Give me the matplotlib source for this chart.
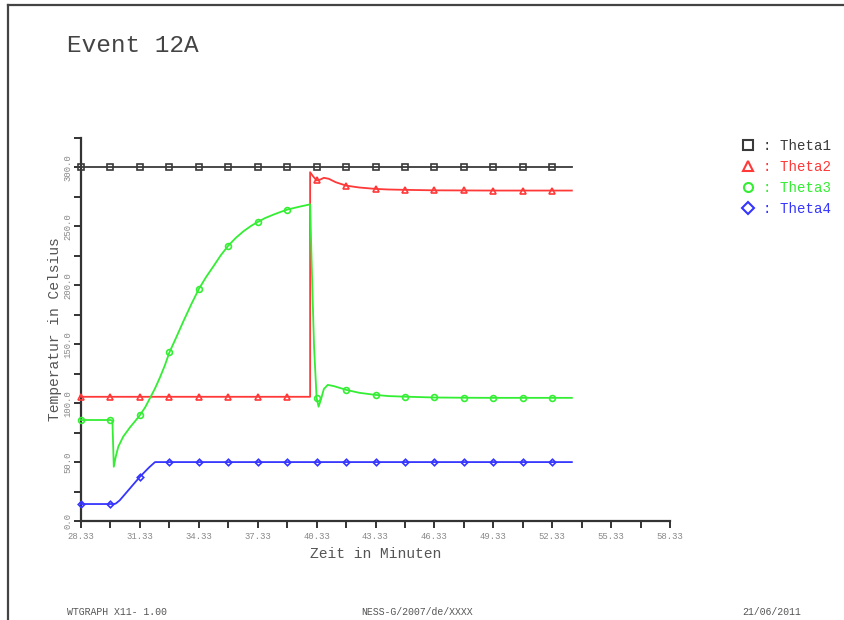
import numpy as np
import matplotlib
matplotlib.use("Agg")
import matplotlib.pyplot as plt
from matplotlib.lines import Line2D
from matplotlib.ticker import MultipleLocator, FixedLocator, FuncFormatter

# --- data -----------------------------------------------------------------
# marker positions (minutes)
marker_times = [28.33, 29.83, 31.33, 32.83, 34.33, 35.83, 37.33, 38.83,
                40.33, 41.83, 43.33, 44.83, 46.33, 47.83, 49.33, 50.83, 52.33]

theta1_t = [28.33, 29.83, 31.33, 32.83, 34.33, 35.83, 37.33, 38.83, 40.33,
            41.83, 43.33, 44.83, 46.33, 47.83, 49.33, 50.83, 52.33, 53.33]
theta1_v = [300.0] * 18

theta2_t = [28.33, 29.83, 31.33, 32.83, 34.33, 35.83, 37.33, 38.83, 40.0,
            40.0, 40.15, 40.33, 40.5, 40.7, 40.95, 41.3, 41.83, 42.5, 43.33,
            44.0, 44.83, 46.33, 47.83, 49.33, 50.83, 52.33, 53.33]
theta2_v = [105.4, 105.4, 105.4, 105.4, 105.4, 105.4, 105.4, 105.4, 105.4,
            296.0, 292.5, 289.0, 289.6, 291.2, 290.4, 287.5, 284.6, 283.0, 281.8,
            281.3, 281.0, 280.6, 280.5, 280.4, 280.4, 280.4, 280.4]

theta3_t = [28.33, 29.83, 29.93, 30.0, 30.1, 30.23, 30.48, 30.83, 31.1, 31.33,
            31.6, 31.84, 32.1, 32.35, 32.6, 32.83, 33.2, 33.54, 33.95, 34.33,
            34.7, 35.07, 35.45, 35.83, 36.2, 36.6, 37.0, 37.33, 37.7, 38.12,
            38.5, 38.83, 39.4, 40.0, 40.1, 40.2, 40.33, 40.43, 40.55, 40.7,
            40.9, 41.2, 41.5, 41.83, 42.5, 43.33, 44.0, 44.83, 46.33, 47.83,
            49.33, 50.83, 52.33, 53.33]
theta3_v = [85.7, 85.7, 85.0, 46.0, 54.6, 63.1, 71.6, 79.6, 85.0, 89.8,
            96.5, 104.2, 112.5, 121.8, 132.0, 143.0, 156.5, 169.3, 184.0, 196.8,
            207.0, 216.0, 225.5, 233.6, 240.0, 245.8, 250.5, 253.7, 257.0, 259.9,
            262.3, 264.2, 266.5, 268.7, 205.0, 148.0, 104.5, 97.0, 103.0, 112.0,
            115.5, 114.5, 113.0, 111.3, 108.8, 107.0, 106.0, 105.5, 104.8, 104.6,
            104.5, 104.5, 104.5, 104.5]

theta4_t = [28.33, 29.83, 30.0, 30.1, 30.3, 31.33, 31.8, 32.1, 32.83, 34.33,
            35.83, 37.33, 38.83, 40.33, 41.83, 43.33, 44.83, 46.33, 47.83,
            49.33, 50.83, 52.33, 53.33]
theta4_v = [14.4, 14.4, 14.4, 14.8, 17.5, 37.5, 45.5, 50.0, 50.0, 50.0,
            50.0, 50.0, 50.0, 50.0, 50.0, 50.0, 50.0, 50.0, 50.0,
            50.0, 50.0, 50.0, 50.0]

series_names = ["Theta1", "Theta2", "Theta3", "Theta4"]
series_t = [theta1_t, theta2_t, theta3_t, theta4_t]
series_v = [theta1_v, theta2_v, theta3_v, theta4_v]

x_tick_labels = ["28.33", "31.33", "34.33", "37.33", "40.33", "43.33",
                 "46.33", "49.33", "52.33", "55.33", "58.33"]

title_text = "Event 12A"
footer_left = "WTGRAPH X11- 1.00"
footer_mid = "NESS-G/2007/de/XXXX"
footer_right = "21/06/2011"

# --- styling ----------------------------------------------------------------
colors = ["#3a3a3a", "#ff3838", "#33ee33", "#3535ff"]
markers = ["s", "^", "o", "D"]
msizes = [3.8, 4.0, 4.2, 3.3]
mono = ["Liberation Mono", "DejaVu Sans Mono"]

fig = plt.figure(figsize=(8.45, 6.2), dpi=100)
ax = fig.add_axes([81 / 845, 1 - 521 / 620, 589 / 845, 383 / 620])

handles = []
for name, t, v, c, m, ms in zip(series_names, series_t, series_v, colors, markers, msizes):
    t = np.asarray(t)
    mask = np.isin(np.round(t, 2), np.round(marker_times, 2))
    # avoid double markers where a time appears twice (jumps)
    seen = set()
    for i, ti in enumerate(np.round(t, 2)):
        if mask[i]:
            if ti in seen:
                mask[i] = False
            seen.add(ti)
    ax.plot(t, v, color=c, lw=1.3, marker=m, markersize=ms,
            markerfacecolor="none", markeredgecolor=c, markeredgewidth=1.2,
            markevery=list(mask), zorder=3, clip_on=False)
    handles.append(Line2D([], [], linestyle="none", marker=m, markersize=6.5,
                          markerfacecolor="none", markeredgecolor=c,
                          markeredgewidth=1.5))

ax.set_xlim(28.33, 58.33)
ax.set_ylim(0, 325)

for side in ("top", "right"):
    ax.spines[side].set_visible(False)
for side in ("left", "bottom"):
    ax.spines[side].set_color("#333333")
    ax.spines[side].set_linewidth(1.6)

ax.xaxis.set_major_locator(FixedLocator([28.33 + 3 * i for i in range(len(x_tick_labels))]))
ax.xaxis.set_minor_locator(FixedLocator([29.83 + 3 * i for i in range(10)]))
ax.set_xticklabels(x_tick_labels)
ax.yaxis.set_major_locator(MultipleLocator(50))
ax.yaxis.set_minor_locator(MultipleLocator(25))
ax.yaxis.set_major_formatter(FuncFormatter(lambda v, p: f"{v:.1f}"))

ax.tick_params(axis="both", which="both", direction="out", length=5, width=1.4,
               color="#333333", labelcolor="#888888", labelsize=6.4)
for lab in ax.get_xticklabels():
    lab.set_fontfamily(mono)
for lab in ax.get_yticklabels():
    lab.set_fontfamily(mono)
    lab.set_rotation(90)
    lab.set_va("center")
ax.tick_params(axis="y", pad=1)
ax.tick_params(axis="x", pad=3)

ax.set_xlabel("Zeit in Minuten", family=mono, fontsize=10.5, color="#555555", labelpad=4)
ax.set_ylabel("Temperatur in Celsius", family=mono, fontsize=10.5, color="#555555", labelpad=1)

leg = fig.legend(handles, [": " + n for n in series_names],
                 loc="upper left", bbox_to_anchor=(728 / 845, 1 - 126 / 620),
                 frameon=False, handlelength=1.0, handletextpad=0.6,
                 labelspacing=0.5, prop={"family": mono, "size": 10.2},
                 labelcolor="markeredgecolor")

fig.text(67 / 845, 1 - 45 / 620, title_text, family=mono, fontsize=17.6,
         color="#444444", va="center", ha="left")

fig.text(67 / 845, 1 - 612 / 620, footer_left, family=mono, fontsize=7.1,
         color="#555555", va="center", ha="left")
fig.text(417 / 845, 1 - 612 / 620, footer_mid, family=mono, fontsize=7.1,
         color="#555555", va="center", ha="center")
fig.text(801 / 845, 1 - 612 / 620, footer_right, family=mono, fontsize=7.1,
         color="#555555", va="center", ha="right")

# page frame (top and left edges)
fig.add_artist(Line2D([8 / 845, 1.0], [1 - 5 / 620, 1 - 5 / 620],
                      transform=fig.transFigure, color="#444444", lw=1.6))
fig.add_artist(Line2D([8 / 845, 8 / 845], [0.0, 1 - 5 / 620],
                      transform=fig.transFigure, color="#444444", lw=1.6))

fig.savefig("out.png", dpi=100)
